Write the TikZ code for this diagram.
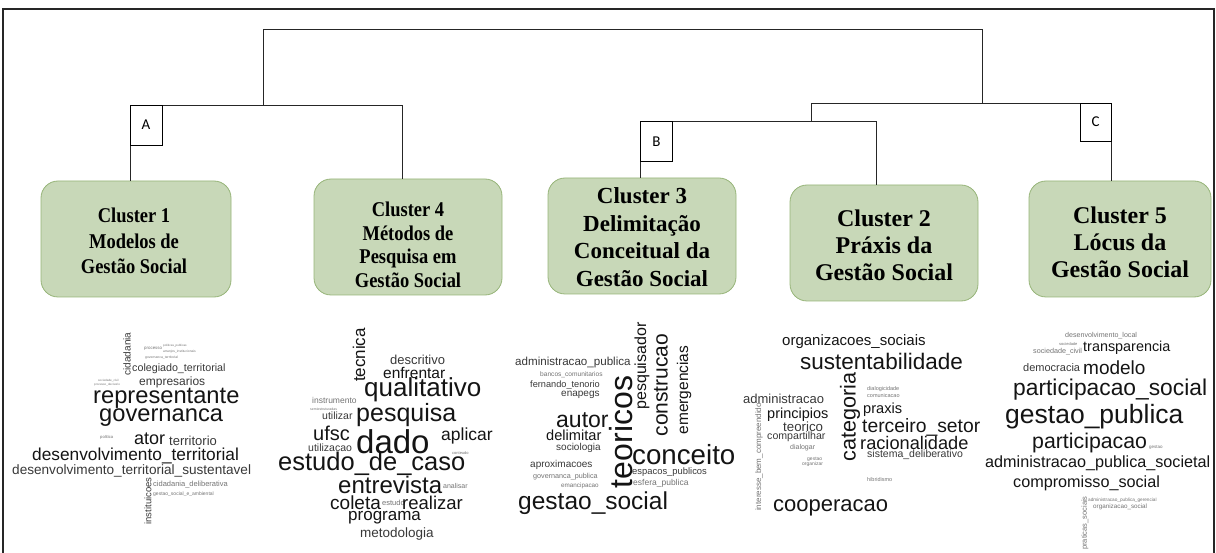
\documentclass[tikz,border=0pt]{standalone}
\usepackage{fontspec}
\setmainfont{Liberation Sans}
\newfontfamily\clA[FakeStretch=0.88]{Liberation Serif}
\newfontfamily\clB{Liberation Serif}
\newfontfamily\labfont{Carlito}
\definecolor{boxfill}{RGB}{200,216,184}
\definecolor{boxdraw}{RGB}{150,180,120}
\tikzset{
  cbox/.style={draw=boxdraw, fill=boxfill, rounded corners=17pt, line width=0.8pt,
    minimum width=188pt, minimum height=116pt, inner sep=0pt},
  ctext/.style={align=center, inner sep=0pt, text=black},
  labbox/.style={draw=black, line width=0.9pt, minimum width=32pt, minimum height=40pt,
    inner sep=0pt, font=\labfont\fontsize{15}{15}\selectfont},
  dline/.style={draw=black!85, line width=0.9pt},
  wcw/.style={anchor=west, inner sep=0pt},
  wcv/.style={anchor=center, inner sep=0pt, rotate=90},
}
\newcommand{\wcolsel}[1]{%
  \ifdim#1pt<9pt\def\wcol{black!55}\else\ifdim#1pt<14pt\def\wcol{black!78}\else\def\wcol{black!92}\fi\fi}
\newcommand{\W}[5]{\wcolsel{#4}\node[wcw,text=\wcol,font=\fontsize{#4}{#4}\selectfont] (#1) at (#2,#3) {#5};}
\newcommand{\V}[5]{\wcolsel{#4}\node[wcv,text=\wcol,font=\fontsize{#4}{#4}\selectfont] (#1) at (#2,#3) {#5};}
\begin{document}
\begin{tikzpicture}[x=1pt,y=-1pt]
\useasboundingbox (0,0) rectangle (1216,553);
% frame
\draw[line width=2pt, black!85] (3,553) -- (3,9) -- (1214,9) -- (1214,553);

% cluster boxes
\node[cbox, minimum width=190pt] (c1) at (136,239) {};
\node[cbox] (c4) at (408,237) {};
\node[cbox] (c3) at (642,236) {};
\node[cbox] (c2) at (884,243) {};
\node[cbox, minimum width=182pt] (c5) at (1120,239) {};

\node[ctext, font=\clA\bfseries\fontsize{21}{25.5}\selectfont] (t1) at (134,241) {Cluster 1\\Modelos de\\Gestão Social};
\node[ctext, font=\clA\bfseries\fontsize{21}{23.5}\selectfont] (t4) at (408,245) {Cluster 4\\Métodos de\\Pesquisa em\\Gestão Social};
\node[ctext, font=\clB\bfseries\fontsize{23}{27.5}\selectfont] (t3) at (642,237) {Cluster 3\\Delimitação\\Conceitual da\\Gestão Social};
\node[ctext, font=\clB\bfseries\fontsize{24}{27}\selectfont] (t2) at (884,245) {Cluster 2\\Práxis da\\Gestão Social};
\node[ctext, font=\clB\bfseries\fontsize{24}{27}\selectfont] (t5) at (1120,242) {Cluster 5\\Lócus da\\Gestão Social};

% dendrogram coordinates
\coordinate (jL) at (263,29);
\coordinate (jR) at (982,29);
\coordinate (jA) at (263,105);
\coordinate (jC) at (982,103);
\coordinate (aL) at (130,105);
\coordinate (aR) at (402,105);
\coordinate (cL) at (811,103);
\coordinate (cR) at (1111,103);
\coordinate (jB) at (811,121);
\coordinate (bL) at (640,121);
\coordinate (bR) at (876,121);

\draw[dline] (jA) -- (jL) -- (jR) -- (jC);
\draw[dline] (c1.north -| aL) -- (aL) -- (aR) -- (c4.north -| aR);
\draw[dline] (jB) -- (cL) -- (cR) -- (c5.north -| cR);
\draw[dline] (c3.north -| bL) -- (bL) -- (bR) -- (c2.north -| bR);

% labels
\node[labbox, fill=white] (labA) at (146,125) {A};
\node[labbox, fill=white] (labB) at (656.5,141.5) {B};
\node[labbox, fill=white, minimum width=31pt, minimum height=38pt] (labC) at (1095.5,122) {C};

% ---------- word cloud cluster 1
\V{a1}{127}{354}{10}{cidadania}
\W{a2}{144}{349}{4.4}{processo}
\W{a3}{163}{346}{3}{politicas\_publicas}
\W{a4}{163}{352}{3.3}{arranjos\_institucionais}
\W{a5}{145}{358}{3.4}{governanca\_territorial}
\W{a6}{98}{381}{3}{sociedade\_civil}
\W{a7}{94}{385}{3}{processo\_decisorio}
\W{a8}{132}{369}{10.7}{colegiado\_territorial}
\W{a9}{139}{382}{12}{empresarios}
\W{a10}{93}{398}{23.7}{representante}
\W{a11}{99}{418}{23.7}{governanca}
\W{a12}{100}{437}{4.2}{politica}
\W{a13}{134}{439}{18}{ator}
\W{a14}{169}{441}{13}{territorio}
\W{a15}{32}{456}{17.3}{desenvolvimento\_territorial}
\W{a16}{12}{471}{13.6}{desenvolvimento\_territorial\_sustentavel}
\V{a17}{148}{501}{9.5}{instituicoes}
\W{a18}{153}{485}{7.5}{cidadania\_deliberativa}
\W{a19}{153}{494}{5}{gestao\_social\_e\_ambiental}

% ---------- word cloud cluster 4
\V{b1}{359}{355}{17}{tecnica}
\W{b2}{390}{360}{13}{descritivo}
\W{b3}{383}{373}{15.5}{enfrentar}
\W{b4}{364}{390}{26}{qualitativo}
\W{b5}{312}{400}{8.5}{instrumento}
\W{b6}{310}{409}{3.5}{semiestruturadas}
\W{b7}{322}{416}{10.5}{utilizar}
\W{b8}{356}{415}{25}{pesquisa}
\W{b9}{313}{433}{20}{ufsc}
\W{b10}{356}{442}{33}{dado}
\W{b11}{441}{436}{17.5}{aplicar}
\W{b12}{452}{453}{4}{conteudo}
\W{b13}{308}{448}{10.5}{utilizacao}
\W{b14}{278}{464}{25.5}{estudo\_de\_caso}
\W{b15}{338}{485}{24}{entrevista}
\W{b16}{443}{486}{7}{analisar}
\W{b17}{330}{503}{19}{coleta}
\W{b18}{382}{503}{7.5}{estudo}
\W{b19}{402}{503}{18.5}{realizar}
\W{b20}{348}{518}{17}{programa}
\W{b21}{360}{534}{13.5}{metodologia}

% ---------- word cloud cluster 3
\W{d1}{515}{363}{11.6}{administracao\_publica}
\W{d2}{540}{375}{6.6}{bancos\_comunitarios}
\W{d3}{530}{385}{9.2}{fernando\_tenorio}
\W{d4}{561}{395}{10}{enapegs}
\W{d5}{556}{420}{23}{autor}
\W{d6}{546}{435}{14.6}{delimitar}
\W{d7}{556}{448}{10}{sociologia}
\W{d8}{530}{465}{10}{aproximacoes}
\W{d9}{533}{477}{7.2}{governanca\_publica}
\W{d10}{561}{486}{6.3}{emancipacao}
\W{d11}{518}{503}{24.5}{gestao\_social}
\V{d12}{621}{432}{32}{teoricos}
\V{d13}{642}{366}{16}{pesquisador}
\V{d14}{661}{385}{21}{construcao}
\V{d15}{684}{390}{15.5}{emergencias}
\W{d16}{632}{455}{27.7}{conceito}
\W{d17}{632}{472}{9.4}{espacos\_publicos}
\W{d18}{633}{483}{8.5}{esfera\_publica}

% ---------- word cloud cluster 2
\W{e1}{782}{342}{15}{organizacoes\_sociais}
\W{e2}{800}{361}{22.5}{sustentabilidade}
\V{e3}{850}{417}{21.6}{categoria}
\W{e4}{867}{389}{5.5}{dialogicidade}
\W{e5}{867}{396}{5.5}{comunicacao}
\W{e6}{743}{399}{13}{administracao}
\W{e7}{767}{415}{14.5}{principios}
\W{e8}{863}{410}{14.6}{praxis}
\W{e9}{783}{427}{13.3}{teorico}
\W{e10}{862}{427}{19.3}{terceiro\_setor}
\W{e11}{767}{437}{10.6}{compartilhar}
\W{e12}{860}{443}{18.2}{racionalidade}
\W{e13}{867}{455}{10.5}{sistema\_deliberativo}
\W{e14}{790}{448}{7}{dialogar}
\W{e15}{807}{459}{5}{gestao}
\W{e16}{802}{464}{5}{organizar}
\W{e17}{867}{480}{5.5}{hibridismo}
\V{e18}{759}{457}{8}{interesse\_bem\_compreendido}
\W{e19}{773}{508}{22}{cooperacao}

% ---------- word cloud cluster 5
\W{f1}{1065}{336}{7.1}{desenvolvimento\_local}
\W{f2}{1059}{344}{4}{sociedade}
\W{f3}{1033}{352}{7.2}{sociedade\_civil}
\W{f4}{1083}{348}{14.4}{transparencia}
\W{f5}{1023}{368}{11}{democracia}
\W{f6}{1083}{368}{19}{modelo}
\W{f7}{1013}{390}{22.8}{participacao\_social}
\W{f8}{1005}{417}{26.5}{gestao\_publica}
\W{f9}{1032}{443}{21.3}{participacao}
\W{f10}{1149}{448}{4.5}{gestao}
\W{f11}{985}{463}{16.2}{administracao\_publica\_societal}
\W{f12}{1013}{483}{16.2}{compromisso\_social}
\V{f13}{1085}{523}{7.5}{praticas\_sociais}
\W{f14}{1088}{500}{4.7}{administracao\_publica\_gerencial}
\W{f15}{1093}{507}{6.3}{organizacao\_social}
\end{tikzpicture}
\end{document}
